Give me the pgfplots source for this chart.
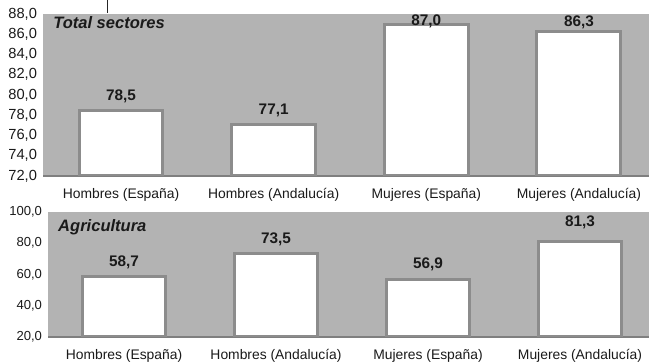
\documentclass[border=0pt]{standalone}
\usepackage{pgfplots}
\pgfplotsset{compat=1.18}
\usepackage{fontspec}
\setmainfont{Liberation Sans}
\definecolor{bg}{HTML}{B3B3B3}
\definecolor{edge}{HTML}{8C8C8C}
\definecolor{axl}{HTML}{7F7F7F}
\definecolor{txt}{HTML}{1A1A1A}
\pgfplotsset{
  panel/.style={
    scale only axis,
    axis background/.style={fill=bg},
    axis x line*=bottom,
    axis y line*=left,
    x axis line style={draw=axl, line width=1.5pt},
    y axis line style={draw=none},
    major tick length=0pt,
    xtick={0,1,2,3},
    xticklabels={Hombres (España),Hombres (Andalucía),Mujeres (España),Mujeres (Andalucía)},
    xticklabel style={font=\fontsize{10.4}{12}\selectfont, text=txt, yshift=-5.5pt},
    /pgf/number format/fixed,
    /pgf/number format/fixed zerofill,
    /pgf/number format/precision=1,
    /pgf/number format/use comma,
    /pgf/number format/assume math mode=true,
    ybar, bar width=0.55,
    visualization depends on={\thisrow{dy}\as\dy},
    nodes near coords={\pgfmathprintnumber[fixed,fixed zerofill,precision=1,use comma,assume math mode=true]{\pgfplotspointmeta}},
    every node near coord/.append style={font=\bfseries\fontsize{11.5}{13}\selectfont, text=txt, yshift=\dy pt},
  }
}
\begin{document}
\begin{tikzpicture}
\useasboundingbox (0pt,0pt) rectangle (486.75pt,272.25pt);
% top panel
\begin{axis}[panel,
  at={(32.25pt,140.25pt)}, anchor=south west,
  width=454.5pt, height=121.5pt,
  xmin=-0.511, xmax=3.459,
  ymin=72, ymax=88, ytick={72,74,...,88},
  yticklabel style={font=\fontsize{11}{13}\selectfont, text=txt, xshift=-1pt},
]
\addplot[fill=white, draw=edge, line width=2.25pt] table[x=x, y=y] {
x y dy
0 78.5 1
1 77.1 1
2 87.0 -7
3 86.3 -3
};
\node[anchor=base west, font=\bfseries\itshape\fontsize{12.4}{14}\selectfont, text=txt, inner sep=0pt] at (axis description cs:0.0165,0.912) {Total sectores};
\end{axis}
% bottom panel
\begin{axis}[panel,
  at={(36pt,19.5pt)}, anchor=south west,
  width=450.75pt, height=93.75pt,
  xmin=-0.5, xmax=3.454,
  ymin=20, ymax=100, ytick={20,40,...,100},
  yticklabel style={font=\fontsize{9.8}{12}\selectfont, text=txt, xshift=-1pt},
]
\addplot[fill=white, draw=edge, line width=2.25pt] table[x=x, y=y] {
x y dy
0 58.7 1
1 73.5 1
2 56.9 2
3 81.3 5
};
\node[anchor=base west, font=\bfseries\itshape\fontsize{12.4}{14}\selectfont, text=txt, inner sep=0pt] at (axis description cs:0.0166,0.84) {Agricultura};
\end{axis}
\draw[black!85, line width=0.75pt] (80.25pt,262.5pt) -- (80.25pt,272.25pt);
\end{tikzpicture}
\end{document}
